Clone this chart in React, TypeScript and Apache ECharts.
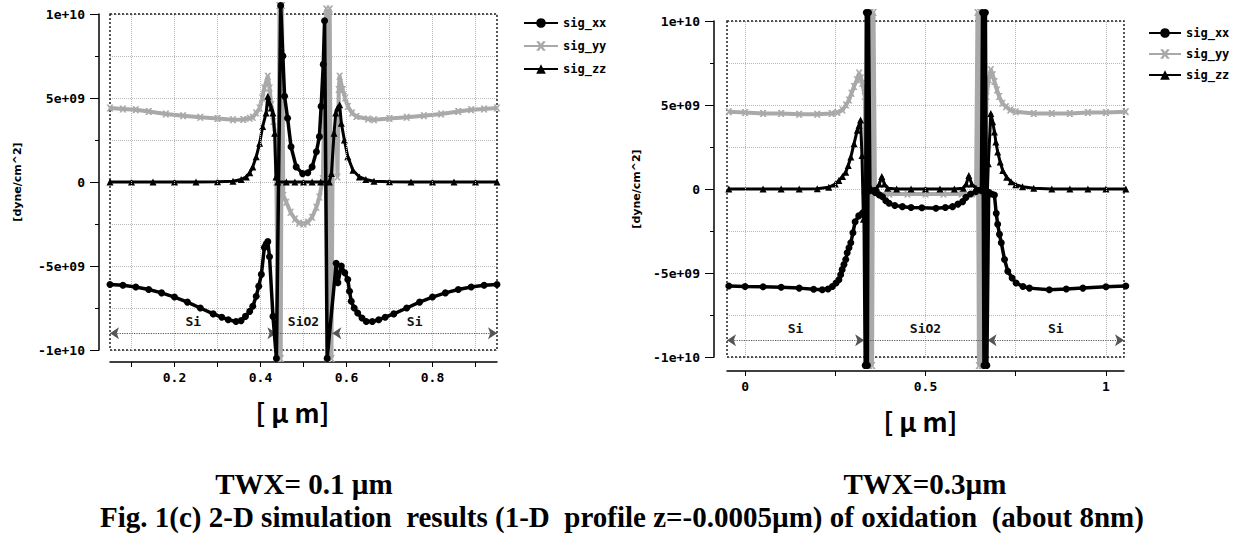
import React, { useEffect, useRef } from "react";
import * as echarts from "echarts";

// ---------- data (x in µm, stress in 1e9 dyne/cm^2) ----------
const LEGEND_NAMES = ["sig_xx", "sig_yy", "sig_zz"];

// Left chart: TWX = 0.1 µm
const L_SIG_XX: [number, number][] = [
  [0.05, -6.1], [0.08, -6.15], [0.11, -6.25], [0.14, -6.4], [0.17, -6.6], [0.2, -6.85], [0.23, -7.15],
  [0.26, -7.5], [0.29, -7.85], [0.31, -8.05], [0.325, -8.2], [0.343, -8.3], [0.355, -8.25], [0.365, -8.0],
  [0.375, -7.7], [0.382, -7.4], [0.39, -6.8], [0.396, -6.2], [0.402, -5.5], [0.409, -3.9], [0.413, -3.7],
  [0.417, -3.55], [0.421, -4.45], [0.429, -8.0], [0.437, -10.5], [0.447, 10.5], [0.452, 7.5], [0.456, 5.1],
  [0.463, 3.8], [0.471, 2.1], [0.483, 0.9], [0.498, 0.5], [0.51, 0.55], [0.52, 0.9], [0.53, 1.8],
  [0.537, 2.7], [0.541, 4.5], [0.546, 7.0], [0.549, 9.6], [0.555, -10.5], [0.576, -4.84], [0.58, -6.0],
  [0.588, -5.0], [0.596, -5.4], [0.603, -5.8], [0.607, -6.5], [0.611, -7.1], [0.618, -7.5], [0.626, -7.8],
  [0.636, -8.1], [0.646, -8.3], [0.66, -8.3], [0.675, -8.2], [0.69, -8.05], [0.71, -7.85], [0.74, -7.5],
  [0.77, -7.15], [0.8, -6.85], [0.83, -6.6], [0.86, -6.4], [0.89, -6.25], [0.92, -6.15], [0.95, -6.1],
];
const L_SIG_YY: [number, number][] = [
  [0.05, 4.4], [0.08, 4.35], [0.11, 4.3], [0.14, 4.2], [0.18, 4.05], [0.22, 3.95], [0.26, 3.85], [0.3, 3.78],
  [0.336, 3.7], [0.36, 3.72], [0.375, 3.8], [0.382, 3.85], [0.39, 4.1], [0.398, 4.4], [0.404, 5.0],
  [0.409, 5.6], [0.417, 6.3], [0.421, 5.6], [0.425, 4.6], [0.43, 3.6], [0.434, 2.9], [0.437, 0],
  [0.441, -10.5], [0.444, 10.5], [0.447, -10.5], [0.45, 10.5], [0.453, -0.8], [0.46, -1.2], [0.47, -1.8],
  [0.48, -2.2], [0.49, -2.45], [0.5, -2.5], [0.51, -2.4], [0.52, -2.1], [0.53, -1.5], [0.537, -0.9],
  [0.545, 0.2], [0.553, 10.3], [0.557, -10.5], [0.561, 10.3], [0.565, -10.5], [0.568, 2.9], [0.577, 2.9],
  [0.579, 0.3], [0.582, 5.5], [0.584, 6.3], [0.591, 5.5], [0.597, 5.0], [0.603, 4.5], [0.613, 4.1],
  [0.623, 3.9], [0.65, 3.75], [0.664, 3.7], [0.7, 3.78], [0.74, 3.85], [0.78, 3.95], [0.82, 4.05],
  [0.86, 4.2], [0.89, 4.3], [0.92, 4.35], [0.95, 4.4],
];
const L_SIG_ZZ: [number, number][] = [
  [0.05, 0], [0.1, 0], [0.15, 0], [0.2, 0], [0.25, 0], [0.3, 0.02], [0.336, 0.05], [0.355, 0.15],
  [0.367, 0.3], [0.375, 0.55], [0.382, 0.9], [0.39, 1.5], [0.398, 2.3], [0.405, 3.3], [0.413, 4.1],
  [0.417, 5.1], [0.421, 4.7], [0.425, 4.4], [0.429, 4.1], [0.433, 2.9], [0.436, 0.3], [0.44, 0],
  [0.46, 0], [0.48, 0], [0.5, 0], [0.52, 0], [0.54, 0], [0.56, 0], [0.565, 0.5], [0.571, 2.9],
  [0.575, 4.1], [0.579, 4.4], [0.584, 4.6], [0.588, 3.5], [0.595, 2.5], [0.603, 1.5], [0.615, 0.7],
  [0.63, 0.3], [0.645, 0.15], [0.664, 0.05], [0.7, 0.02], [0.75, 0], [0.8, 0], [0.85, 0], [0.9, 0], [0.95, 0],
];

// Right chart: TWX = 0.3 µm
const R_SIG_XX: [number, number][] = [
  [-0.045, -5.77], [0.0, -5.8], [0.05, -5.82], [0.1, -5.85], [0.15, -5.9], [0.19, -5.97], [0.214, -6.0],
  [0.23, -5.95], [0.242, -5.8], [0.252, -5.6], [0.26, -5.4], [0.265, -5.1], [0.269, -4.8], [0.274, -4.5],
  [0.279, -4.2], [0.283, -3.8], [0.288, -3.5], [0.293, -3.2], [0.299, -2.6], [0.305, -1.95], [0.315, -1.6],
  [0.325, -1.45], [0.33, -1.35], [0.333, -10.5], [0.336, 10.5], [0.339, -10.5], [0.342, 10.5], [0.346, -0.1],
  [0.36, -0.2], [0.372, -0.35], [0.381, -0.46], [0.39, -0.7], [0.399, -0.85], [0.415, -0.98], [0.436, -1.05],
  [0.46, -1.1], [0.49, -1.12], [0.529, -1.15], [0.555, -1.1], [0.575, -1.05], [0.59, -0.9], [0.603, -0.75],
  [0.612, -0.5], [0.625, -0.3], [0.64, -0.15], [0.655, -0.1], [0.658, 10.5], [0.662, -10.5], [0.666, 10.5],
  [0.67, -10.5], [0.675, -0.2], [0.683, -0.3], [0.691, -0.36], [0.696, -1.45], [0.7, -2.1], [0.705, -2.7],
  [0.71, -3.2], [0.719, -4.2], [0.728, -4.9], [0.74, -5.3], [0.751, -5.6], [0.77, -5.8], [0.788, -5.9],
  [0.843, -6.0], [0.89, -5.95], [0.936, -5.9], [1.0, -5.82], [1.055, -5.77],
];
const R_SIG_YY: [number, number][] = [
  [-0.045, 4.6], [0.0, 4.55], [0.05, 4.5], [0.1, 4.5], [0.15, 4.45], [0.2, 4.45], [0.24, 4.5], [0.256, 4.55],
  [0.27, 4.7], [0.28, 5.0], [0.288, 5.3], [0.295, 5.7], [0.302, 6.1], [0.31, 6.5], [0.316, 6.9], [0.321, 6.6],
  [0.325, 6.3], [0.332, 5.5], [0.336, -10.5], [0.34, 10.5], [0.344, -10.5], [0.348, 10.5], [0.352, -10.5],
  [0.356, 10.5], [0.36, -0.3], [0.4, -0.3], [0.45, -0.3], [0.5, -0.3], [0.55, -0.3], [0.6, -0.3], [0.64, -0.3],
  [0.644, 10.5], [0.648, -10.5], [0.652, 10.5], [0.656, -10.5], [0.66, 10.5], [0.664, -10.5], [0.669, 5.5],
  [0.675, 6.5], [0.681, 7.1], [0.686, 6.8], [0.691, 6.4], [0.698, 5.9], [0.704, 5.5], [0.713, 5.1],
  [0.723, 4.9], [0.735, 4.7], [0.75, 4.6], [0.8, 4.5], [0.85, 4.5], [0.9, 4.5], [0.95, 4.55], [1.0, 4.55],
  [1.055, 4.6],
];
const R_SIG_ZZ: [number, number][] = [
  [-0.045, 0], [0.05, 0], [0.1, 0], [0.15, 0], [0.2, 0.02], [0.232, 0.1], [0.25, 0.3], [0.26, 0.5],
  [0.27, 0.75], [0.279, 1.0], [0.286, 1.4], [0.293, 1.9], [0.302, 2.7], [0.311, 3.5], [0.316, 3.8],
  [0.32, 4.1], [0.324, 2.0], [0.328, -1.8], [0.332, 0], [0.35, 0], [0.365, 0.05], [0.372, 0.3],
  [0.379, 0.75], [0.386, 0.3], [0.395, 0.05], [0.42, 0], [0.46, 0], [0.5, 0], [0.54, 0], [0.58, 0],
  [0.605, 0.05], [0.613, 0.3], [0.62, 0.8], [0.628, 0.3], [0.64, 0.05], [0.665, 0], [0.669, -1.8],
  [0.674, 1.5], [0.681, 4.5], [0.686, 4.0], [0.691, 3.4], [0.695, 2.8], [0.7, 2.2], [0.707, 1.6],
  [0.714, 1.1], [0.725, 0.7], [0.737, 0.43], [0.75, 0.25], [0.769, 0.14], [0.8, 0.05], [0.85, 0],
  [0.9, 0], [0.95, 0], [1.0, 0], [1.055, 0],
];

// axes / ticks
const L_X_RANGE = [0.05, 0.95];
const L_X_LABELS = [0.2, 0.4, 0.6, 0.8];
const L_X_TICKS = [0.1, 0.2, 0.3, 0.4, 0.5, 0.6, 0.7, 0.8, 0.9];
const R_X_RANGE = [-0.05, 1.05];
const R_X_LABELS = [0, 0.5, 1];
const R_X_TICKS = [0, 0.25, 0.5, 0.75, 1];
const Y_RANGE = [-10, 10];
const Y_INTERVAL = 5;

// material regions (annotation at y = -9e9)
const REGION_LEVEL = -9;
const L_REGIONS = [
  { name: "Si", from: 0.05, to: 0.437, arrows: true },
  { name: "SiO2", from: 0.44, to: 0.56, arrows: false },
  { name: "Si", from: 0.567, to: 0.95, arrows: true },
];
const R_REGIONS = [
  { name: "Si", from: -0.05, to: 0.33, arrows: true },
  { name: "SiO2", from: 0.34, to: 0.66, arrows: false },
  { name: "Si", from: 0.672, to: 1.05, arrows: true },
];

const SUB_TITLES = ["TWX= 0.1 \u00b5m", "TWX=0.3\u00b5m"];
const CAPTION = "Fig. 1(c) 2-D simulation  results (1-D  profile z=-0.0005\u00b5m) of oxidation  (about 8nm)";
const X_NAME = "[ \u03bc m]";
const Y_NAME = "[dyne/cm^2]";

// ---------- layout ----------
const GRIDS = [
  { left: 110, top: 14, width: 387, height: 336, yOff: 11, xOff: 12 },
  { left: 727, top: 21, width: 397, height: 336, yOff: 13, xOff: 14 },
];

const MONO = "DejaVu Sans Mono";
const SERIF = "Liberation Serif";
const CROSS = "path://M0 0 L3 0 L5 3 L7 0 L10 0 L6.5 5 L10 10 L7 10 L5 7 L3 10 L0 10 L3.5 5 Z";

function fmtY(v: number): string {
  if (v === 0) return "0";
  const s = (v * 1e9).toExponential();
  const [m, e] = s.split("e");
  return `${m}e${e[0]}${e.slice(1).padStart(2, "0")}`;
}

function dataSeries(gi: number, xx: [number, number][], yy: [number, number][], zz: [number, number][]) {
  const base = { type: "line", xAxisIndex: gi, yAxisIndex: gi, clip: false, showAllSymbol: true, silent: true };
  return [
    {
      ...base, name: "sig_yy", data: yy, symbol: CROSS, symbolSize: 7, z: 3,
      itemStyle: { color: "#a9a9a9" }, lineStyle: { color: "#a9a9a9", width: 4 },
    },
    {
      ...base, name: "sig_zz", data: zz, symbol: "triangle", symbolSize: 7, z: 4,
      itemStyle: { color: "#000" }, lineStyle: { color: "#000", width: 3 },
    },
    {
      ...base, name: "sig_xx", data: xx, symbol: "circle", symbolSize: 7, z: 5,
      itemStyle: { color: "#000" }, lineStyle: { color: "#000", width: 3.5 },
    },
  ];
}

function helperSeries(gi: number, gridX: number[], regions: typeof L_REGIONS) {
  return [
    {
      type: "line", name: "gridlines" + gi, xAxisIndex: gi, yAxisIndex: gi, data: [], silent: true, z: 1,
      markLine: {
        silent: true, symbol: "none", animation: false,
        lineStyle: { type: "dotted", color: "#b8b8b8", width: 1 },
        label: { show: false },
        data: gridX.map((x) => ({ xAxis: x })),
      },
    },
    {
      type: "line", name: "regions" + gi, xAxisIndex: gi, yAxisIndex: gi, data: [], silent: true, z: 2,
      markLine: {
        silent: true, animation: false, symbolSize: 9,
        lineStyle: { type: "dotted", color: "#555", width: 1.2 },
        label: {
          show: true, position: "middle", formatter: "{b}", color: "#111",
          fontFamily: MONO, fontWeight: "bold", fontSize: 13, backgroundColor: "#fff", padding: [0, 2],
        },
        data: regions.map((r) => [
          { name: r.name, coord: [r.from, REGION_LEVEL], symbol: r.arrows ? "arrow" : "none" },
          { coord: [r.to, REGION_LEVEL], symbol: r.arrows ? "arrow" : "none" },
        ]),
      },
    },
  ];
}

function xAxisOpt(gi: number, range: number[], labels: number[], ticks: number[], namePad: number) {
  return {
    type: "value", gridIndex: gi, min: range[0], max: range[1], offset: GRIDS[gi].xOff,
    axisLine: { show: true, onZero: false, lineStyle: { color: "#000", width: 1.5 } },
    axisTick: { show: true, customValues: ticks, length: 5, lineStyle: { color: "#000" } },
    axisLabel: { customValues: labels, color: "#000", fontFamily: MONO, fontWeight: "bold", fontSize: 13, margin: 9 },
    splitLine: { show: false },
    name: X_NAME, nameLocation: "middle", nameGap: 36,
    nameTextStyle: {
      fontFamily: "Noto Sans CJK JP", fontWeight: "bold", fontSize: 26, color: "#000", padding: [0, namePad, 0, 0],
    },
  };
}

function yAxisOpt(gi: number, nameGap: number) {
  return {
    type: "value", gridIndex: gi, min: Y_RANGE[0], max: Y_RANGE[1], interval: Y_INTERVAL, offset: GRIDS[gi].yOff,
    axisLine: { show: true, onZero: false, lineStyle: { color: "#000", width: 1.5 } },
    axisTick: { show: true, length: 9, lineStyle: { color: "#000" } },
    minorTick: { show: true, splitNumber: 2, length: 4, lineStyle: { color: "#000" } },
    axisLabel: { formatter: fmtY, color: "#000", fontFamily: MONO, fontWeight: "bold", fontSize: 13, margin: 14 },
    splitLine: { show: true, lineStyle: { type: "dotted", color: "#b8b8b8" } },
    minorSplitLine: { show: true, lineStyle: { type: "dotted", color: "#b8b8b8" } },
    name: Y_NAME, nameLocation: "middle", nameRotate: 90, nameGap,
    nameTextStyle: { fontFamily: "DejaVu Sans", fontWeight: "bold", fontSize: 11, color: "#000" },
  };
}

export default function App() {
  const ref = useRef<HTMLDivElement>(null);
  useEffect(() => {
    if (!ref.current) return;
    const chart = echarts.init(ref.current, undefined, { renderer: "svg" });
    const legendText = { fontFamily: MONO, fontWeight: "bold", fontSize: 12, color: "#000" };
    const bottomText = (text: string, x: number, y: number) => ({
      type: "text", x, y, silent: true,
      style: {
        text, fontFamily: SERIF, fontWeight: "bold", fontSize: 29, fill: "#000",
        textAlign: "center", textVerticalAlign: "middle",
      },
    });
    chart.setOption({
      animation: false,
      backgroundColor: "#fff",
      grid: GRIDS.map((g) => ({ left: g.left, top: g.top, width: g.width, height: g.height, containLabel: false })),
      xAxis: [
        xAxisOpt(0, L_X_RANGE, L_X_LABELS, L_X_TICKS, 22),
        xAxisOpt(1, R_X_RANGE, R_X_LABELS, R_X_TICKS, 10),
      ],
      yAxis: [yAxisOpt(0, 76), yAxisOpt(1, 72)],
      legend: [
        {
          data: LEGEND_NAMES, orient: "vertical", left: 518, top: 12, itemWidth: 34, itemHeight: 12, itemGap: 11,
          textStyle: legendText, selectedMode: false,
        },
        {
          data: LEGEND_NAMES, orient: "vertical", left: 1143, top: 22, itemWidth: 32, itemHeight: 12, itemGap: 9,
          textStyle: legendText, selectedMode: false,
        },
      ],
      series: [
        ...helperSeries(0, L_X_TICKS, L_REGIONS),
        ...helperSeries(1, R_X_TICKS, R_REGIONS),
        ...dataSeries(0, L_SIG_XX, L_SIG_YY, L_SIG_ZZ),
        ...dataSeries(1, R_SIG_XX, R_SIG_YY, R_SIG_ZZ),
      ],
      graphic: [
        ...GRIDS.map((g) => ({
          type: "rect", z: 1, silent: true,
          shape: { x: g.left, y: g.top, width: g.width, height: g.height },
          style: { fill: "none", stroke: "#222", lineWidth: 1.5, lineDash: [2, 2] },
        })),
        bottomText(SUB_TITLES[0], 304, 484),
        bottomText(SUB_TITLES[1], 925, 484),
        bottomText(CAPTION, 622, 517),
      ],
    });
    return () => chart.dispose();
  }, []);
  return <div ref={ref} style={{ position: "absolute", left: 0, top: 0, width: 1245, height: 539 }} />;
}
